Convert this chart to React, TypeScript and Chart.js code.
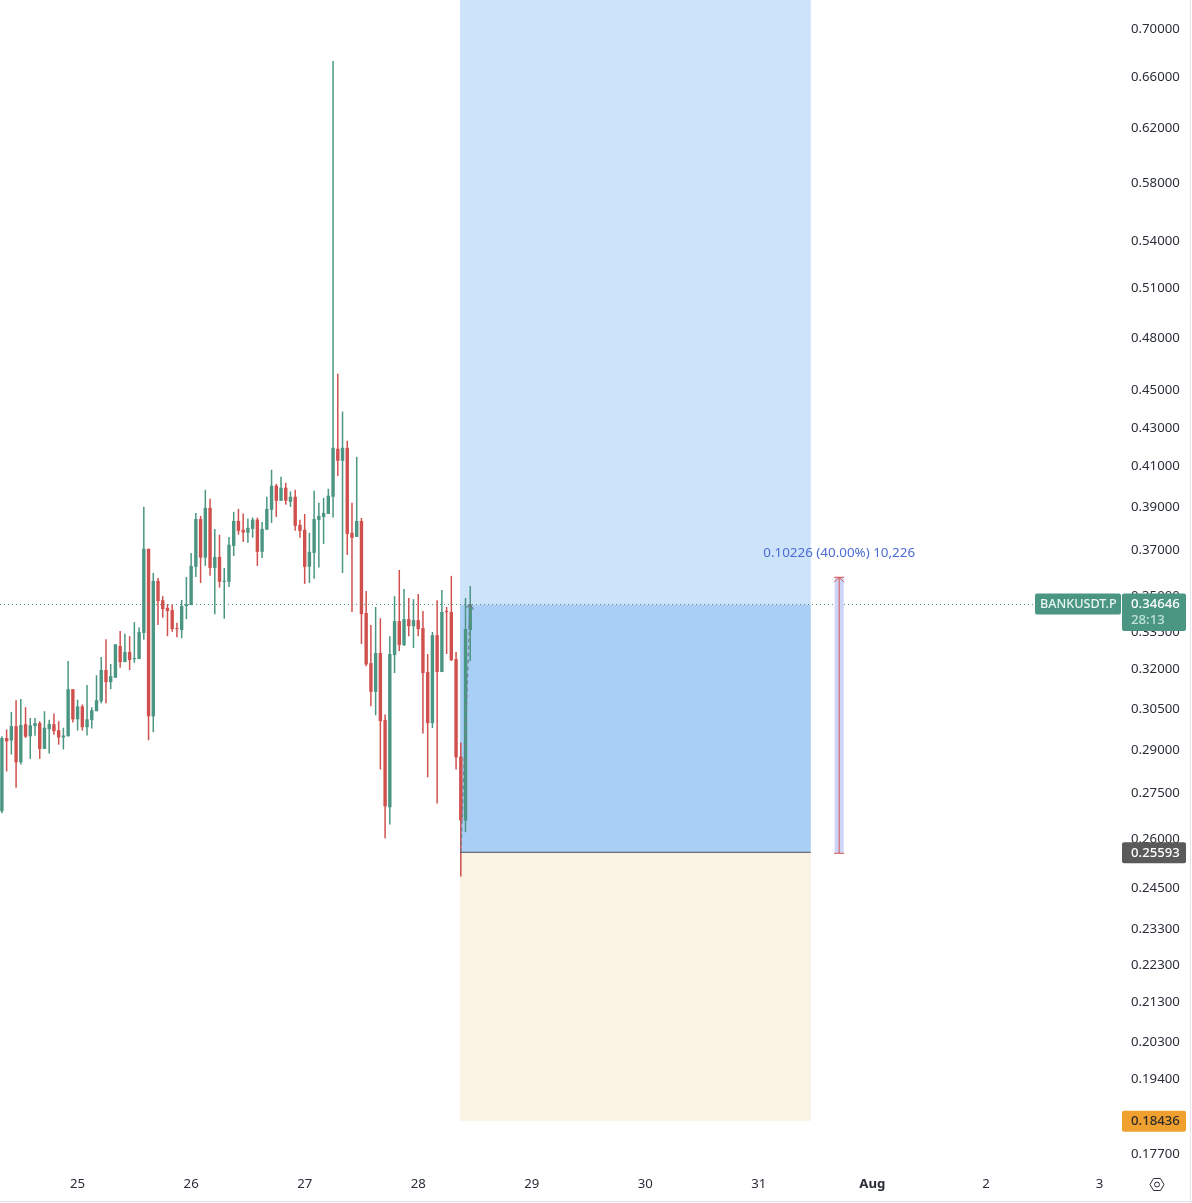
import React, { useEffect, useRef } from "react";
import { Chart, registerables } from "chart.js";

Chart.register(...registerables);

// hours since 25 Jul 00:00
const hours = [
  -16,-15,-14,-13,-12,-11,-10,-9,-8,-7,-6,-5,-4,-3,-2,-1,0,1,2,3,4,5,6,7,8,9,
  10,11,12,13,14,15,16,17,18,19,20,21,22,23,24,25,26,27,28,29,30,31,32,33,34,
  35,36,37,38,39,40,41,42,43,44,45,46,47,48,49,50,51,52,53,54,55,56,57,58,59,
  60,61,62,63,64,65,66,67,68,69,70,71,72,73,74,75,76,77,78,79,80,81,82,83,
];
const opens = [
  .2691,.2943,.2934,.2986,.2857,.2993,.2949,.2986,.2997,.2904,.2975,.2993,.2971,.2945,.2949,.3124,
  .3011,.3059,.2982,.3008,.3041,.3078,.3198,.3151,.3168,.3293,.3229,.3269,.3241,.3241,.3346,.3709,
  .3022,.3566,.3483,.3450,.3441,.3366,.3358,.3458,.3462,.3628,.3846,.3669,.3899,.3623,.3672,.3562,
  .3562,.3722,.3837,.3796,.3782,.3800,.3843,.3695,.3796,.3890,.4006,.3933,.3996,.3928,.3952,.3819,
  .3796,.3628,.3690,.3842,.3856,.3870,.3952,.4191,.4130,.4196,.3782,.3763,.3837,.3429,.3225,.3114,
  .3265,.3008,.2704,.3257,.3395,.3297,.3403,.3374,.3399,.3366,.3190,.2997,.3337,.3190,.3437,.3433,
  .3241,.2877,.2661,.3358,
];
const highs = [
  .2949,.2974,.3038,.3082,.3087,.3056,.3016,.3016,.3004,.3041,.3009,.3032,.3004,.2980,.3233,.3124,
  .3084,.3066,.3140,.3056,.3178,.3249,.3321,.3222,.3300,.3354,.3343,.3333,.3391,.3370,.3904,.3709,
  .3601,.3579,.3500,.3466,.3466,.3388,.3484,.3583,.3690,.3875,.3861,.3986,.3943,.3800,.3773,.3623,
  .3763,.3880,.3894,.3872,.3848,.3853,.3853,.3832,.3952,.4085,.4015,.4050,.4020,.3978,.3986,.3843,
  .3870,.3782,.3981,.3923,.3947,.3991,.6731,.4594,.4386,.4232,.3923,.4150,.3851,.3522,.3379,.3454,
  .3407,.3029,.3333,.3500,.3614,.3531,.3492,.3487,.3509,.3437,.3261,.3350,.3483,.3527,.3454,.3588,
  .3269,.2927,.3492,.3544,
];
const lows = [
  .2684,.2825,.2884,.2769,.2849,.2943,.2869,.2951,.2869,.2904,.2888,.2955,.2919,.2902,.2949,.2999,
  .2970,.2970,.2952,.2977,.3041,.3071,.3071,.3124,.3168,.3207,.3229,.3198,.3226,.3241,.3318,.2935,
  .2964,.3379,.3409,.3333,.3351,.3329,.3325,.3403,.3462,.3583,.3557,.3632,.3588,.3424,.3537,.3405,
  .3540,.3676,.3773,.3740,.3736,.3759,.3632,.3667,.3796,.3828,.3856,.3933,.3914,.3904,.3791,.3759,
  .3553,.3557,.3575,.3625,.3731,.3870,.3853,.4054,.3601,.3681,.3433,.3763,.3301,.3213,.3059,.3026,
  .2832,.2604,.2648,.3186,.3273,.3293,.3333,.3285,.3333,.2959,.2805,.2979,.2717,.3190,.3261,.3233,
  .2832,.2485,.2623,.3233,
];
const closes = [
  .2943,.2931,.2986,.2857,.2990,.2948,.2989,.2997,.2904,.2980,.2994,.2968,.2945,.2952,.3124,.3011,
  .3059,.2982,.3011,.3045,.3082,.3198,.3151,.3174,.3300,.3229,.3269,.3237,.3245,.3350,.3709,.3022,
  .3566,.3479,.3445,.3437,.3362,.3362,.3458,.3465,.3632,.3846,.3669,.3899,.3623,.3672,.3562,.3566,
  .3727,.3837,.3791,.3783,.3805,.3843,.3695,.3800,.3894,.4006,.3933,.3996,.3933,.3952,.3814,.3791,
  .3628,.3695,.3846,.3861,.3875,.3957,.4196,.4130,.4196,.3777,.3759,.3837,.3424,.3220,.3114,.3265,
  .3004,.2707,.3261,.3395,.3297,.3403,.3374,.3399,.3362,.3186,.2997,.3337,.3190,.3433,.3433,.3237,
  .2874,.2661,.3362,.3465,
];

const priceTicks = [
  0.7,0.66,0.62,0.58,0.54,0.51,0.48,0.45,0.43,0.41,0.39,0.37,0.35,0.335,0.32,0.305,
  0.29,0.275,0.26,0.245,0.233,0.223,0.213,0.203,0.194,0.177,
];
const dayHours = [0,24,48,72,96,120,144,168,192,216];
const dayLabels = ["25","26","27","28","29","30","31","Aug","2","3"];

const lastPrice = 0.34646;
const entryPrice = 0.25593;
const stopPrice = 0.18436;
const measureTop = 0.35819;
const positionStart = 80.85;
const positionEnd = 154.98;
const measureHour = 160.98;
const moveStart = 81;
const moveEnd = 83;
const symbol = "BANKUSDT.P";
const countdown = "28:13";
const measureText = "0.10226 (40.00%) 10,226";

const GREEN = "#4a9682";
const RED = "#d0504e";
const FONT = '"Noto Sans", sans-serif';

const overlay = {
  id: "overlay",
  beforeDatasetsDraw(chart: any) {
    const { ctx, scales: { x, y }, chartArea } = chart;
    const x0 = x.getPixelForValue(positionStart);
    const x1 = x.getPixelForValue(positionEnd);
    const yL = y.getPixelForValue(lastPrice);
    const yE = y.getPixelForValue(entryPrice);
    const yS = y.getPixelForValue(stopPrice);
    ctx.save();
    ctx.fillStyle = "#cde3fa";
    ctx.fillRect(x0, chartArea.top, x1 - x0, yL - chartArea.top);
    ctx.fillStyle = "#a9cff6";
    ctx.fillRect(x0, yL, x1 - x0, yE - yL);
    ctx.fillStyle = "#faf2e2";
    ctx.fillRect(x0, yE, x1 - x0, yS - yE);
    ctx.restore();
  },
  afterDatasetsDraw(chart: any) {
    const { ctx, scales: { x, y }, chartArea } = chart;
    const x0 = x.getPixelForValue(positionStart);
    const x1 = x.getPixelForValue(positionEnd);
    const yL = y.getPixelForValue(lastPrice);
    const yE = y.getPixelForValue(entryPrice);
    ctx.save();
    // entry line
    ctx.strokeStyle = "#4a5058";
    ctx.lineWidth = 1;
    ctx.beginPath();
    ctx.moveTo(x0, yE);
    ctx.lineTo(x1, yE);
    ctx.stroke();
    // last price line
    ctx.strokeStyle = GREEN;
    ctx.setLineDash([1, 3]);
    ctx.beginPath();
    ctx.moveTo(chartArea.left, yL);
    ctx.lineTo(chartArea.right, yL);
    ctx.stroke();
    // trade move arrow
    const ax0 = x.getPixelForValue(moveStart);
    const ax1 = x.getPixelForValue(moveEnd);
    ctx.strokeStyle = "rgba(110,125,135,0.85)";
    ctx.lineWidth = 1.5;
    ctx.setLineDash([4, 3]);
    ctx.beginPath();
    ctx.moveTo(ax0, yE);
    ctx.lineTo(ax1, yL);
    ctx.stroke();
    ctx.setLineDash([]);
    ctx.beginPath();
    ctx.moveTo(ax1 - 4, yL + 3);
    ctx.lineTo(ax1, yL);
    ctx.lineTo(ax1 + 3, yL + 5);
    ctx.stroke();
    // measure tool
    const mx = x.getPixelForValue(measureHour);
    const mt = y.getPixelForValue(measureTop);
    ctx.fillStyle = "#ccd5f8";
    ctx.fillRect(mx - 4.5, mt, 9, yE + 1 - mt);
    ctx.strokeStyle = "#d9534f";
    ctx.lineWidth = 1;
    ctx.beginPath();
    ctx.moveTo(mx, mt);
    ctx.lineTo(mx, yE + 1);
    ctx.moveTo(mx - 5, yE + 1);
    ctx.lineTo(mx + 5, yE + 1);
    ctx.moveTo(mx - 5, mt);
    ctx.lineTo(mx + 5, mt);
    ctx.moveTo(mx - 5, mt + 5);
    ctx.lineTo(mx, mt);
    ctx.lineTo(mx + 5, mt + 5);
    ctx.stroke();
    ctx.fillStyle = "#4c6bd6";
    ctx.font = `13.4px ${FONT}`;
    ctx.textAlign = "center";
    ctx.textBaseline = "middle";
    ctx.fillText(measureText, mx, mt - 24);
    ctx.restore();
  },
  afterDraw(chart: any) {
    const { ctx, scales: { y }, width, height } = chart;
    const yL = y.getPixelForValue(lastPrice);
    const yE = y.getPixelForValue(entryPrice);
    const yS = y.getPixelForValue(stopPrice);
    const tag = (x: number, top: number, w: number, h: number, c: string) => {
      ctx.fillStyle = c;
      ctx.beginPath();
      ctx.roundRect(x, top, w, h, 2);
      ctx.fill();
    };
    ctx.save();
    ctx.textBaseline = "middle";
    ctx.textAlign = "left";
    // symbol + last price
    tag(1035, yL - 11, 86, 21, GREEN);
    ctx.font = `500 12.6px ${FONT}`;
    ctx.fillStyle = "#e9f5f1";
    ctx.fillText(symbol, 1040, yL);
    ctx.font = `500 13.2px ${FONT}`;
    tag(1122, yL - 11, 64, 37.5, GREEN);
    ctx.fillStyle = "#ffffff";
    ctx.fillText(lastPrice.toFixed(5), 1131, yL);
    ctx.fillStyle = "#bfe3d8";
    ctx.fillText(countdown, 1131, yL + 16);
    // entry
    tag(1122, yE - 10, 64, 21, "#5a5a5a");
    ctx.fillStyle = "#ffffff";
    ctx.fillText(entryPrice.toFixed(5), 1131, yE + 0.5);
    // stop
    tag(1122, yS - 10, 64, 21, "#f0a02e");
    ctx.fillStyle = "#2b2b2b";
    ctx.fillText(stopPrice.toFixed(5), 1131, yS + 0.5);
    // settings icon
    const cx = 1157, cy = 1184.5;
    ctx.strokeStyle = "#2a2e39";
    ctx.lineWidth = 1;
    ctx.beginPath();
    [[-7, 0], [-3.5, -6], [3.5, -6], [7, 0], [3.5, 6], [-3.5, 6]].forEach(([a, b], i) =>
      i ? ctx.lineTo(cx + a, cy + b) : ctx.moveTo(cx + a, cy + b));
    ctx.closePath();
    ctx.stroke();
    ctx.beginPath();
    ctx.arc(cx, cy, 2.5, 0, Math.PI * 2);
    ctx.stroke();
    // frame lines
    ctx.strokeStyle = "#e3e5ea";
    ctx.beginPath();
    ctx.moveTo(0, height - 1.5);
    ctx.lineTo(width, height - 1.5);
    ctx.moveTo(width - 1.5, 0);
    ctx.lineTo(width - 1.5, height);
    ctx.stroke();
    ctx.restore();
  },
};

export default function App() {
  const ref = useRef<HTMLCanvasElement>(null);
  useEffect(() => {
    const colors = hours.map((_, i) => (closes[i] >= opens[i] ? GREEN : RED));
    const chart = new Chart(ref.current!, {
      type: "bar",
      data: {
        datasets: [
          {
            label: "wick",
            data: hours.map((h, i) => ({ x: h, y: [lows[i], highs[i]] })),
            backgroundColor: colors,
            maxBarThickness: 1.5,
            grouped: false,
            order: 2,
          },
          {
            label: "body",
            data: hours.map((h, i) => ({ x: h, y: [opens[i], closes[i]] })),
            backgroundColor: colors,
            maxBarThickness: 3.4,
            minBarLength: 1,
            grouped: false,
            order: 1,
          },
        ] as any,
      },
      plugins: [overlay],
      options: {
        animation: false,
        responsive: false,
        devicePixelRatio: 1,
        layout: { padding: 0 },
        plugins: { legend: { display: false }, tooltip: { enabled: false } },
        events: [],
        scales: {
          x: {
            type: "linear",
            offset: false,
            min: -16.4,
            max: 220.34,
            border: { display: false },
            grid: { display: false, drawTicks: false },
            afterFit: (s: any) => { s.height = 35; s.paddingLeft = 0; s.paddingRight = 0; },
            afterBuildTicks: (s: any) => { s.ticks = dayHours.map((value) => ({ value })); },
            ticks: {
              padding: 8,
              autoSkip: false,
              maxRotation: 0,
              color: "#2a2e39",
              font: (c: any) => ({ family: FONT, size: 13.2, weight: c.tick && dayLabels[dayHours.indexOf(c.tick.value)] === "Aug" ? "bold" : "normal" }),
              callback: (v: any) => dayLabels[dayHours.indexOf(v)],
            },
          },
          y: {
            type: "logarithmic",
            position: "right",
            min: 0.1740,
            max: 0.7253,
            border: { display: false },
            grid: { display: false, drawTicks: false },
            afterFit: (s: any) => { s.width = 72; s.paddingTop = 0; s.paddingBottom = 0; },
            afterBuildTicks: (s: any) => { s.ticks = priceTicks.map((value) => ({ value })); },
            ticks: {
              padding: 11,
              autoSkip: false,
              color: "#2a2e39",
              font: { family: FONT, size: 13.2 },
              callback: (v: any) => Number(v).toFixed(5),
            },
          },
        },
      } as any,
    });
    return () => chart.destroy();
  }, []);
  return (
    <canvas
      ref={ref}
      width={1192}
      height={1203}
      style={{ position: "absolute", left: 0, top: 0, width: 1192, height: 1203, display: "block" }}
    />
  );
}
